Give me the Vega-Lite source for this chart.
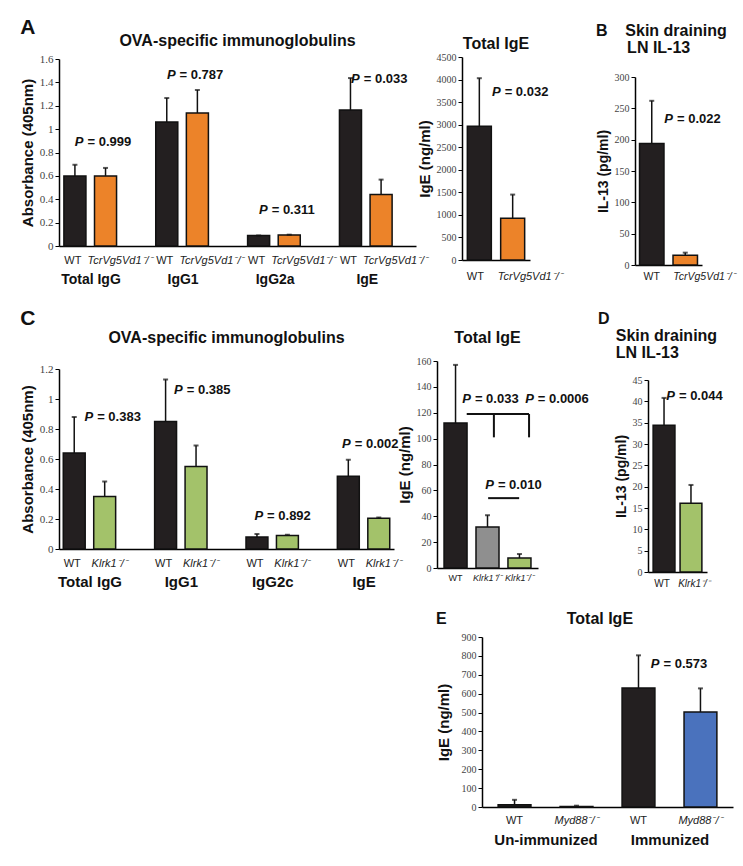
{
  "$schema": "https://vega.github.io/schema/vega-lite/v6.json",
  "background": "white",
  "padding": {"left": 20, "top": 17, "right": 5, "bottom": 5},
  "config": {
    "font": "Liberation Sans",
    "view": {"stroke": null},
    "title": {"fontSize": 16, "fontWeight": "bold", "color": "#111", "font": "Liberation Sans"},
    "axis": {"grid": false, "domainColor": "#000", "domainWidth": 1.5, "titleFont": "Liberation Sans", "titleFontWeight": "bold", "titleColor": "#111"},
    "axisY": {"tickColor": "#000", "tickSize": 4, "tickWidth": 1, "labelFont": "Liberation Sans Narrow", "labelFontSize": 10, "labelColor": "#444", "labelPadding": 2, "titleFontSize": 15, "titlePadding": 4},
    "axisX": {"ticks": false, "tickSize": 0, "labelAngle": 0, "labelFontSize": 11, "labelColor": "#222", "labelPadding": 6, "labelOverlap": false, "labelFont": "Liberation Sans"}
  },
  "datasets": {
    "a_main": [
      {"key": "TIgG_WT", "geno": "WT", "mean": 0.60, "upper": 0.695},
      {"key": "TIgG_KO", "geno": "Tcr", "mean": 0.60, "upper": 0.668},
      {"key": "IgG1_WT", "geno": "WT", "mean": 1.06, "upper": 1.266},
      {"key": "IgG1_KO", "geno": "Tcr", "mean": 1.138, "upper": 1.335},
      {"key": "IgG2a_WT", "geno": "WT", "mean": 0.09, "upper": 0.09},
      {"key": "IgG2a_KO", "geno": "Tcr", "mean": 0.095, "upper": 0.097},
      {"key": "IgE_WT", "geno": "WT", "mean": 1.163, "upper": 1.437},
      {"key": "IgE_KO", "geno": "Tcr", "mean": 0.44, "upper": 0.568}
    ],
    "a_p": [
      {"group": "Total IgG", "plabel": "= 0.999", "py": 0.89},
      {"group": "IgG1", "plabel": "= 0.787", "py": 1.46},
      {"group": "IgG2a", "plabel": "= 0.311", "py": 0.31},
      {"group": "IgE", "plabel": "= 0.033", "py": 1.43}
    ],
    "a_tot": [
      {"key": "WT", "geno": "WT", "mean": 2965, "upper": 4030},
      {"key": "KO", "geno": "Tcr", "mean": 925, "upper": 1450}
    ],
    "a_tot_p": [{"key": "KO", "plabel": "= 0.032", "py": 3730}],
    "b": [
      {"key": "WT", "geno": "WT", "mean": 194, "upper": 262},
      {"key": "KO", "geno": "Tcr", "mean": 15.4, "upper": 19.7}
    ],
    "b_p": [{"key": "KO", "plabel": "= 0.022", "py": 233}],
    "c_main": [
      {"key": "TIgG_WT", "geno": "WT", "mean": 0.64, "upper": 0.88},
      {"key": "TIgG_KO", "geno": "Klrk1", "mean": 0.35, "upper": 0.45},
      {"key": "IgG1_WT", "geno": "WT", "mean": 0.85, "upper": 1.13},
      {"key": "IgG1_KO", "geno": "Klrk1", "mean": 0.55, "upper": 0.69},
      {"key": "IgG2c_WT", "geno": "WT", "mean": 0.08, "upper": 0.10},
      {"key": "IgG2c_KO", "geno": "Klrk1", "mean": 0.09, "upper": 0.095},
      {"key": "IgE_WT", "geno": "WT", "mean": 0.485, "upper": 0.595},
      {"key": "IgE_KO", "geno": "Klrk1", "mean": 0.205, "upper": 0.21}
    ],
    "c_p": [
      {"gx": 0.04, "plabel": "= 0.383", "py": 0.88},
      {"gx": 1.02, "plabel": "= 0.385", "py": 1.06},
      {"gx": 1.90, "plabel": "= 0.892", "py": 0.22},
      {"gx": 2.86, "plabel": "= 0.002", "py": 0.70}
    ],
    "c_tot": [
      {"key": "WT", "geno": "WT", "mean": 112, "upper": 157},
      {"key": "HET", "geno": "het", "mean": 31.7, "upper": 40.8},
      {"key": "KO", "geno": "Klrk1", "mean": 7.7, "upper": 10.8}
    ],
    "c_tot_lines": [
      {"x": 0.93, "x2": 2.88, "y": 119, "y2": 119},
      {"x": 1.78, "x2": 1.78, "y": 119, "y2": 101},
      {"x": 2.88, "x2": 2.88, "y": 119, "y2": 101},
      {"x": 1.6, "x2": 2.57, "y": 54, "y2": 54}
    ],
    "c_tot_p": [
      {"x": 1.06, "py": 131, "plabel": "= 0.033"},
      {"x": 3.03, "py": 131, "plabel": "= 0.0006"},
      {"x": 1.78, "py": 64.5, "plabel": "= 0.010"}
    ],
    "d": [
      {"key": "WT", "geno": "WT", "mean": 34.4, "upper": 40.8},
      {"key": "KO", "geno": "Klrk1", "mean": 16.1, "upper": 20.4}
    ],
    "d_p": [{"key": "WT", "plabel": "= 0.044", "py": 41.2}],
    "e": [
      {"key": "Un_WT", "geno": "WT", "mean": 12, "upper": 38},
      {"key": "Un_KO", "geno": "Myd88", "mean": 3, "upper": 7},
      {"key": "Im_WT", "geno": "WT", "mean": 630, "upper": 803},
      {"key": "Im_KO", "geno": "Myd88", "mean": 503, "upper": 628}
    ],
    "e_p": [{"group": "Immunized", "plabel": "= 0.573", "py": 755}]
  },
  "spacing": 22,
  "vconcat": [
    {
      "spacing": -11,
      "hconcat": [
        {
          "title": {"text": "A", "anchor": "start", "frame": "bounds", "fontSize": 21, "offset": -5},
          "vconcat": [
            {
              "title": {"text": "OVA-specific immunoglobulins", "anchor": "middle", "frame": "group", "offset": 4},
              "width": 357, "height": 189,
              "layer": [
                {
                  "data": {"name": "a_main"},
                  "encoding": {
                    "x": {"field": "key", "type": "nominal", "title": null,
                      "scale": {"domain": ["TIgG_WT", "TIgG_KO", "g1", "IgG1_WT", "IgG1_KO", "g2", "IgG2a_WT", "IgG2a_KO", "g3", "IgE_WT", "IgE_KO"], "paddingInner": 0.28, "paddingOuter": 0.47, "align": 0.17},
                      "axis": {"labelPadding": 8, "labelExpr": "indexof(datum.value,'_WT')>0 ? 'WT' : (indexof(datum.value,'_KO')>0 ? 'TcrVg5Vd1⁻/⁻' : '')", "labelFontStyle": {"condition": {"test": "indexof(datum.value,'_KO')>0", "value": "italic"}, "value": "normal"}, "labelAlign": {"condition": {"test": "indexof(datum.value,'_KO')>0", "value": "left"}, "value": "center"}, "labelOffset": {"condition": {"test": "indexof(datum.value,'_KO')>0", "value": -18}, "value": -2}}},
                    "y": {"field": "mean", "type": "quantitative", "title": "Absorbance (405nm)",
                      "scale": {"domain": [0, 1.6], "nice": false, "range": [189, 2]},
                      "axis": {"values": [0, 0.2, 0.4, 0.6, 0.8, 1, 1.2, 1.4, 1.6], "format": "~g", "labelFontSize": 11}}
                  },
                  "layer": [
                    {"mark": {"type": "bar", "stroke": "#111", "strokeWidth": 1.5}, "encoding": {"color": {"field": "geno", "type": "nominal", "legend": null, "scale": {"domain": ["WT", "Tcr", "het", "Klrk1", "Myd88"], "range": ["#231f20", "#ec8329", "#8f8f8f", "#a3c26a", "#4a72bd"]}}}},
                    {"mark": {"type": "rule", "color": "#111", "strokeWidth": 1.5}, "encoding": {"y2": {"field": "upper"}}},
                    {"mark": {"type": "tick", "color": "#111", "thickness": 2, "size": 5}, "encoding": {"y": {"field": "upper", "type": "quantitative", "title": "Absorbance (405nm)", "axis": {"values": [0, 0.2, 0.4, 0.6, 0.8, 1, 1.2, 1.4, 1.6], "format": "~g", "labelFontSize": 11}}}}
                  ]
                },
                {
                  "data": {"name": "a_p"},
                  "encoding": {
                    "x": {"field": "group", "type": "nominal", "title": null,
                      "scale": {"type": "point", "domain": ["Total IgG", "IgG1", "IgG2a", "IgE"], "padding": 0.438, "align": 0.39},
                      "axis": {"orient": "bottom", "domain": false, "labelPadding": 26, "labelFontSize": 14, "labelFontWeight": "bold", "labelColor": "#111"}},
                    "y": {"field": "py", "type": "quantitative", "title": "Absorbance (405nm)", "axis": {"values": [0, 0.2, 0.4, 0.6, 0.8, 1, 1.2, 1.4, 1.6], "format": "~g", "labelFontSize": 11}}
                  },
                  "layer": [
                    {"mark": {"type": "text", "align": "right", "baseline": "middle", "fontStyle": "italic", "fontWeight": "bold", "fontSize": 13, "color": "#111", "dx": -7}, "encoding": {"text": {"value": "P"}}},
                    {"mark": {"type": "text", "align": "left", "baseline": "middle", "fontWeight": "bold", "fontSize": 13, "color": "#111", "dx": -3}, "encoding": {"text": {"field": "plabel"}}}
                  ]
                }
              ],
              "resolve": {"scale": {"x": "independent"}, "axis": {"x": "independent"}}
            }
          ]
        },
        {
          "spacing": 33,
          "hconcat": [
            {
              "title": {"text": "Total IgE", "anchor": "middle", "frame": "group", "offset": 0},
              "width": 68, "height": 203,
              "layer": [
                {
                  "data": {"name": "a_tot"},
                  "encoding": {
                    "x": {"field": "key", "type": "nominal", "title": null,
                      "scale": {"domain": ["WT", "KO"], "paddingInner": 0.28, "paddingOuter": 0.16},
                      "axis": {"labelPadding": 10, "labelExpr": "datum.value == 'WT' ? 'WT' : 'TcrVg5Vd1⁻/⁻'", "labelFontStyle": {"condition": {"test": "datum.value == 'KO'", "value": "italic"}, "value": "normal"}, "labelAlign": {"condition": {"test": "datum.value == 'KO'", "value": "left"}, "value": "center"}, "labelOffset": {"condition": {"test": "datum.value == 'KO'", "value": -15}, "value": -4}}},
                    "y": {"field": "mean", "type": "quantitative", "title": "IgE (ng/ml)",
                      "scale": {"domain": [0, 4500], "nice": false},
                      "axis": {"values": [0, 500, 1000, 1500, 2000, 2500, 3000, 3500, 4000, 4500], "format": "d"}}
                  },
                  "layer": [
                    {"mark": {"type": "bar", "stroke": "#111", "strokeWidth": 1.5}, "encoding": {"color": {"field": "geno", "type": "nominal", "legend": null, "scale": {"domain": ["WT", "Tcr", "het", "Klrk1", "Myd88"], "range": ["#231f20", "#ec8329", "#8f8f8f", "#a3c26a", "#4a72bd"]}}}},
                    {"mark": {"type": "rule", "color": "#111", "strokeWidth": 1.5}, "encoding": {"y2": {"field": "upper"}}},
                    {"mark": {"type": "tick", "color": "#111", "thickness": 2, "size": 5}, "encoding": {"y": {"field": "upper", "type": "quantitative", "title": "IgE (ng/ml)", "axis": {"values": [0, 500, 1000, 1500, 2000, 2500, 3000, 3500, 4000, 4500], "format": "d"}}}}
                  ]
                },
                {
                  "data": {"name": "a_tot_p"},
                  "encoding": {
                    "x": {"field": "key", "type": "nominal", "bandPosition": 0, "title": null},
                    "y": {"field": "py", "type": "quantitative", "title": "IgE (ng/ml)", "axis": {"values": [0, 500, 1000, 1500, 2000, 2500, 3000, 3500, 4000, 4500], "format": "d"}}
                  },
                  "layer": [
                    {"mark": {"type": "text", "align": "right", "baseline": "middle", "fontStyle": "italic", "fontWeight": "bold", "fontSize": 13, "color": "#111"}, "encoding": {"text": {"value": "P"}}},
                    {"mark": {"type": "text", "align": "left", "baseline": "middle", "fontWeight": "bold", "fontSize": 13, "color": "#111", "dx": 4}, "encoding": {"text": {"field": "plabel"}}}
                  ]
                }
              ]
            },
            {
              "title": {"text": ["B\u00a0\u00a0\u00a0\u00a0Skin draining", "\u200b\u00a0\u00a0\u00a0\u00a0\u00a0\u00a0\u00a0LN IL-13"], "anchor": "start", "frame": "bounds", "fontSize": 16, "lineHeight": 17, "offset": 1},
              "width": 67, "height": 208,
              "layer": [
                {
                  "data": {"name": "b"},
                  "encoding": {
                    "x": {"field": "key", "type": "nominal", "title": null,
                      "scale": {"domain": ["WT", "KO"], "paddingInner": 0.27, "paddingOuter": 0.135},
                      "axis": {"labelFontSize": 10.5, "labelExpr": "datum.value == 'WT' ? 'WT' : 'TcrVg5Vd1⁻/⁻'", "labelFontStyle": {"condition": {"test": "datum.value == 'KO'", "value": "italic"}, "value": "normal"}, "labelAlign": {"condition": {"test": "datum.value == 'KO'", "value": "left"}, "value": "center"}, "labelOffset": {"condition": {"test": "datum.value == 'KO'", "value": -12}, "value": 0}}},
                    "y": {"field": "mean", "type": "quantitative", "title": "IL-13 (pg/ml)",
                      "scale": {"domain": [0, 300], "nice": false, "range": [208, 20]},
                      "axis": {"values": [0, 50, 100, 150, 200, 250, 300], "titleFontSize": 14}}
                  },
                  "layer": [
                    {"mark": {"type": "bar", "stroke": "#111", "strokeWidth": 1.5}, "encoding": {"color": {"field": "geno", "type": "nominal", "legend": null, "scale": {"domain": ["WT", "Tcr", "het", "Klrk1", "Myd88"], "range": ["#231f20", "#ec8329", "#8f8f8f", "#a3c26a", "#4a72bd"]}}}},
                    {"mark": {"type": "rule", "color": "#111", "strokeWidth": 1.5}, "encoding": {"y2": {"field": "upper"}}},
                    {"mark": {"type": "tick", "color": "#111", "thickness": 2, "size": 5}, "encoding": {"y": {"field": "upper", "type": "quantitative", "title": "IL-13 (pg/ml)", "axis": {"values": [0, 50, 100, 150, 200, 250, 300], "titleFontSize": 14}}}}
                  ]
                },
                {
                  "data": {"name": "b_p"},
                  "encoding": {
                    "x": {"field": "key", "type": "nominal", "bandPosition": 0, "title": null},
                    "y": {"field": "py", "type": "quantitative", "title": "IL-13 (pg/ml)", "axis": {"values": [0, 50, 100, 150, 200, 250, 300], "titleFontSize": 14}}
                  },
                  "layer": [
                    {"mark": {"type": "text", "align": "right", "baseline": "middle", "fontStyle": "italic", "fontWeight": "bold", "fontSize": 13, "color": "#111"}, "encoding": {"text": {"value": "P"}}},
                    {"mark": {"type": "text", "align": "left", "baseline": "middle", "fontWeight": "bold", "fontSize": 13, "color": "#111", "dx": 4}, "encoding": {"text": {"field": "plabel"}}}
                  ]
                }
              ]
            }
          ]
        }
      ]
    },
    {
      "spacing": -5,
      "hconcat": [
        {
          "title": {"text": "C", "anchor": "start", "frame": "bounds", "fontSize": 21, "offset": 1},
          "vconcat": [
            {
              "title": {"text": "OVA-specific immunoglobulins", "anchor": "middle", "frame": "group", "offset": 15},
              "width": 335, "height": 188,
              "layer": [
                {
                  "data": {"name": "c_main"},
                  "encoding": {
                    "x": {"field": "key", "type": "nominal", "title": null,
                      "scale": {"domain": ["TIgG_WT", "TIgG_KO", "g1", "IgG1_WT", "IgG1_KO", "g2", "IgG2c_WT", "IgG2c_KO", "g3", "IgE_WT", "IgE_KO"], "paddingInner": 0.28, "paddingOuter": 0.14},
                      "axis": {"labelPadding": 8, "labelExpr": "indexof(datum.value,'_WT')>0 ? 'WT' : (indexof(datum.value,'_KO')>0 ? 'Klrk1⁻/⁻' : '')", "labelFontStyle": {"condition": {"test": "indexof(datum.value,'_KO')>0", "value": "italic"}, "value": "normal"}, "labelOffset": {"condition": {"test": "indexof(datum.value,'_KO')>0", "value": 5}, "value": -2}}},
                    "y": {"field": "mean", "type": "quantitative", "title": "Absorbance (405nm)",
                      "scale": {"domain": [0, 1.2], "nice": false, "range": [188, 8]},
                      "axis": {"values": [0, 0.2, 0.4, 0.6, 0.8, 1, 1.2], "format": "~g", "labelFontSize": 11}}
                  },
                  "layer": [
                    {"mark": {"type": "bar", "stroke": "#111", "strokeWidth": 1.5}, "encoding": {"color": {"field": "geno", "type": "nominal", "legend": null, "scale": {"domain": ["WT", "Tcr", "het", "Klrk1", "Myd88"], "range": ["#231f20", "#ec8329", "#8f8f8f", "#a3c26a", "#4a72bd"]}}}},
                    {"mark": {"type": "rule", "color": "#111", "strokeWidth": 1.5}, "encoding": {"y2": {"field": "upper"}}},
                    {"mark": {"type": "tick", "color": "#111", "thickness": 2, "size": 5}, "encoding": {"y": {"field": "upper", "type": "quantitative", "title": "Absorbance (405nm)", "axis": {"values": [0, 0.2, 0.4, 0.6, 0.8, 1, 1.2], "format": "~g", "labelFontSize": 11}}}}
                  ]
                },
                {
                  "data": {"name": "c_p"},
                  "encoding": {
                    "x": {"field": "gx", "type": "quantitative", "title": null,
                      "scale": {"domain": [-0.334, 3.333], "nice": false, "zero": false},
                      "axis": {"orient": "bottom", "domain": false, "ticks": false, "grid": false, "values": [0, 1, 2, 3], "labelExpr": "['Total IgG','IgG1','IgG2c','IgE'][datum.value]", "labelFlush": false, "labelOverlap": false, "labelPadding": 25, "labelFontSize": 15, "labelFontWeight": "bold", "labelColor": "#111"}},
                    "y": {"field": "py", "type": "quantitative", "title": "Absorbance (405nm)", "axis": {"values": [0, 0.2, 0.4, 0.6, 0.8, 1, 1.2], "format": "~g", "labelFontSize": 11}}
                  },
                  "layer": [
                    {"mark": {"type": "text", "align": "right", "baseline": "middle", "fontStyle": "italic", "fontWeight": "bold", "fontSize": 13, "color": "#111"}, "encoding": {"text": {"value": "P"}}},
                    {"mark": {"type": "text", "align": "left", "baseline": "middle", "fontWeight": "bold", "fontSize": 13, "color": "#111", "dx": 4}, "encoding": {"text": {"field": "plabel"}}}
                  ]
                }
              ],
              "resolve": {"scale": {"x": "independent"}, "axis": {"x": "independent"}}
            }
          ]
        },
        {
          "spacing": 9,
          "hconcat": [
            {
              "title": {"text": "Total IgE", "anchor": "middle", "frame": "group", "offset": 10},
              "width": 101, "height": 207,
              "layer": [
                {
                  "data": {"name": "c_tot"},
                  "encoding": {
                    "x": {"field": "key", "type": "nominal", "title": null,
                      "scale": {"domain": ["WT", "HET", "KO"], "paddingInner": 0.28, "paddingOuter": 0.22},
                      "axis": {"labelFontSize": 9, "labelPadding": 5, "labelExpr": "datum.value == 'WT' ? 'WT' : (datum.value == 'HET' ? 'Klrk1⁺/⁻' : 'Klrk1⁻/⁻')", "labelFontStyle": {"condition": {"test": "datum.value != 'WT'", "value": "italic"}, "value": "normal"}}},
                    "y": {"field": "mean", "type": "quantitative", "title": "IgE (ng/ml)",
                      "scale": {"domain": [0, 160], "nice": false},
                      "axis": {"values": [0, 20, 40, 60, 80, 100, 120, 140, 160]}}
                  },
                  "layer": [
                    {"mark": {"type": "bar", "stroke": "#111", "strokeWidth": 1.5}, "encoding": {"color": {"field": "geno", "type": "nominal", "legend": null, "scale": {"domain": ["WT", "Tcr", "het", "Klrk1", "Myd88"], "range": ["#231f20", "#ec8329", "#8f8f8f", "#a3c26a", "#4a72bd"]}}}},
                    {"mark": {"type": "rule", "color": "#111", "strokeWidth": 1.5}, "encoding": {"y2": {"field": "upper"}}},
                    {"mark": {"type": "tick", "color": "#111", "thickness": 2, "size": 5}, "encoding": {"y": {"field": "upper", "type": "quantitative", "title": "IgE (ng/ml)", "axis": {"values": [0, 20, 40, 60, 80, 100, 120, 140, 160]}}}}
                  ]
                },
                {
                  "encoding": {
                    "x": {"field": "x", "type": "quantitative", "scale": {"domain": [0, 3.16], "nice": false, "zero": false}, "axis": null}
                  },
                  "layer": [
                    {
                      "data": {"name": "c_tot_lines"},
                      "mark": {"type": "rule", "color": "#111", "strokeWidth": 2},
                      "encoding": {
                        "x2": {"field": "x2"},
                        "y": {"field": "y", "type": "quantitative", "title": "IgE (ng/ml)", "axis": {"values": [0, 20, 40, 60, 80, 100, 120, 140, 160]}},
                        "y2": {"field": "y2"}
                      }
                    },
                    {
                      "data": {"name": "c_tot_p"},
                      "mark": {"type": "text", "align": "right", "baseline": "middle", "fontStyle": "italic", "fontWeight": "bold", "fontSize": 13, "color": "#111"},
                      "encoding": {"y": {"field": "py", "type": "quantitative", "title": "IgE (ng/ml)", "axis": {"values": [0, 20, 40, 60, 80, 100, 120, 140, 160]}}, "text": {"value": "P"}}
                    },
                    {
                      "data": {"name": "c_tot_p"},
                      "mark": {"type": "text", "align": "left", "baseline": "middle", "fontWeight": "bold", "fontSize": 13, "color": "#111", "dx": 4},
                      "encoding": {"y": {"field": "py", "type": "quantitative", "title": "IgE (ng/ml)", "axis": {"values": [0, 20, 40, 60, 80, 100, 120, 140, 160]}}, "text": {"field": "plabel"}}
                    }
                  ]
                }
              ],
              "resolve": {"scale": {"x": "independent"}, "axis": {"x": "independent"}}
            },
            {
              "title": {"text": ["D", "\u200b\u00a0\u00a0\u00a0\u00a0Skin draining", "\u200b\u00a0\u00a0\u00a0\u00a0LN IL-13"], "anchor": "start", "frame": "bounds", "fontSize": 16, "lineHeight": 17, "offset": 0, "dx": -16},
              "width": 59, "height": 211,
              "layer": [
                {
                  "data": {"name": "d"},
                  "encoding": {
                    "x": {"field": "key", "type": "nominal", "title": null,
                      "scale": {"domain": ["WT", "KO"], "paddingInner": 0.19, "paddingOuter": 0.19},
                      "axis": {"labelFontSize": 10, "labelExpr": "datum.value == 'WT' ? 'WT' : 'Klrk1⁻/⁻'", "labelFontStyle": {"condition": {"test": "datum.value == 'KO'", "value": "italic"}, "value": "normal"}, "labelOffset": {"condition": {"test": "datum.value == 'KO'", "value": 3}, "value": -2}}},
                    "y": {"field": "mean", "type": "quantitative", "title": "IL-13 (pg/ml)",
                      "scale": {"domain": [0, 45], "nice": false, "range": [211, 19]},
                      "axis": {"values": [0, 5, 10, 15, 20, 25, 30, 35, 40, 45], "titleFontSize": 14}}
                  },
                  "layer": [
                    {"mark": {"type": "bar", "stroke": "#111", "strokeWidth": 1.5}, "encoding": {"color": {"field": "geno", "type": "nominal", "legend": null, "scale": {"domain": ["WT", "Tcr", "het", "Klrk1", "Myd88"], "range": ["#231f20", "#ec8329", "#8f8f8f", "#a3c26a", "#4a72bd"]}}}},
                    {"mark": {"type": "rule", "color": "#111", "strokeWidth": 1.5}, "encoding": {"y2": {"field": "upper"}}},
                    {"mark": {"type": "tick", "color": "#111", "thickness": 2, "size": 5}, "encoding": {"y": {"field": "upper", "type": "quantitative", "title": "IL-13 (pg/ml)", "axis": {"values": [0, 5, 10, 15, 20, 25, 30, 35, 40, 45], "titleFontSize": 14}}}}
                  ]
                },
                {
                  "data": {"name": "d_p"},
                  "encoding": {
                    "x": {"field": "key", "type": "nominal", "bandPosition": 1, "title": null},
                    "y": {"field": "py", "type": "quantitative", "title": "IL-13 (pg/ml)", "axis": {"values": [0, 5, 10, 15, 20, 25, 30, 35, 40, 45], "titleFontSize": 14}}
                  },
                  "layer": [
                    {"mark": {"type": "text", "align": "right", "baseline": "middle", "fontStyle": "italic", "fontWeight": "bold", "fontSize": 13, "color": "#111"}, "encoding": {"text": {"value": "P"}}},
                    {"mark": {"type": "text", "align": "left", "baseline": "middle", "fontWeight": "bold", "fontSize": 13, "color": "#111", "dx": 4}, "encoding": {"text": {"field": "plabel"}}}
                  ]
                }
              ]
            }
          ]
        }
      ]
    },
    {
      "spacing": 0,
      "hconcat": [
        {"width": 377, "height": 10, "data": {"values": []}, "mark": "point"},
        {
          "title": {"text": "E\u00a0\u00a0\u00a0\u00a0\u00a0\u00a0\u00a0\u00a0\u00a0\u00a0\u00a0\u00a0\u00a0\u00a0\u00a0\u00a0\u00a0\u00a0\u00a0\u00a0\u00a0\u00a0\u00a0\u00a0\u00a0\u00a0\u00a0Total IgE", "anchor": "start", "frame": "bounds", "offset": 5},
          "width": 251, "height": 170,
          "layer": [
            {
              "data": {"name": "e"},
              "encoding": {
                "x": {"field": "key", "type": "nominal", "title": null,
                  "scale": {"domain": ["Un_WT", "Un_KO", "Im_WT", "Im_KO"], "paddingInner": 0.47, "paddingOuter": 0.26},
                  "axis": {"labelPadding": 7, "labelExpr": "indexof(datum.value,'_WT')>0 ? 'WT' : 'Myd88⁻/⁻'", "labelFontStyle": {"condition": {"test": "indexof(datum.value,'_KO')>0", "value": "italic"}, "value": "normal"}}},
                "y": {"field": "mean", "type": "quantitative", "title": "IgE (ng/ml)",
                  "scale": {"domain": [0, 900], "nice": false},
                  "axis": {"values": [0, 100, 200, 300, 400, 500, 600, 700, 800, 900], "titlePadding": 10}}
              },
              "layer": [
                {"mark": {"type": "bar", "stroke": "#111", "strokeWidth": 1.5}, "encoding": {"color": {"field": "geno", "type": "nominal", "legend": null, "scale": {"domain": ["WT", "Tcr", "het", "Klrk1", "Myd88"], "range": ["#231f20", "#ec8329", "#8f8f8f", "#a3c26a", "#4a72bd"]}}}},
                {"mark": {"type": "rule", "color": "#111", "strokeWidth": 1.5}, "encoding": {"y2": {"field": "upper"}}},
                {"mark": {"type": "tick", "color": "#111", "thickness": 2, "size": 5}, "encoding": {"y": {"field": "upper", "type": "quantitative", "title": "IgE (ng/ml)", "axis": {"values": [0, 100, 200, 300, 400, 500, 600, 700, 800, 900], "titlePadding": 10}}}}
              ]
            },
            {
              "data": {"name": "e_p"},
              "encoding": {
                "x": {"field": "group", "type": "nominal", "title": null,
                  "scale": {"type": "point", "domain": ["Un-immunized", "Immunized"], "padding": 0.512},
                  "axis": {"orient": "bottom", "domain": false, "labelPadding": 25, "labelFontSize": 15, "labelFontWeight": "bold", "labelColor": "#111"}},
                "y": {"field": "py", "type": "quantitative", "title": "IgE (ng/ml)", "axis": {"values": [0, 100, 200, 300, 400, 500, 600, 700, 800, 900], "titlePadding": 10}}
              },
              "layer": [
                {"mark": {"type": "text", "align": "right", "baseline": "middle", "fontStyle": "italic", "fontWeight": "bold", "fontSize": 13, "color": "#111", "dx": -10}, "encoding": {"text": {"value": "P"}}},
                {"mark": {"type": "text", "align": "left", "baseline": "middle", "fontWeight": "bold", "fontSize": 13, "color": "#111", "dx": -6}, "encoding": {"text": {"field": "plabel"}}}
              ]
            }
          ],
          "resolve": {"scale": {"x": "independent"}, "axis": {"x": "independent"}}
        }
      ]
    }
  ]
}
